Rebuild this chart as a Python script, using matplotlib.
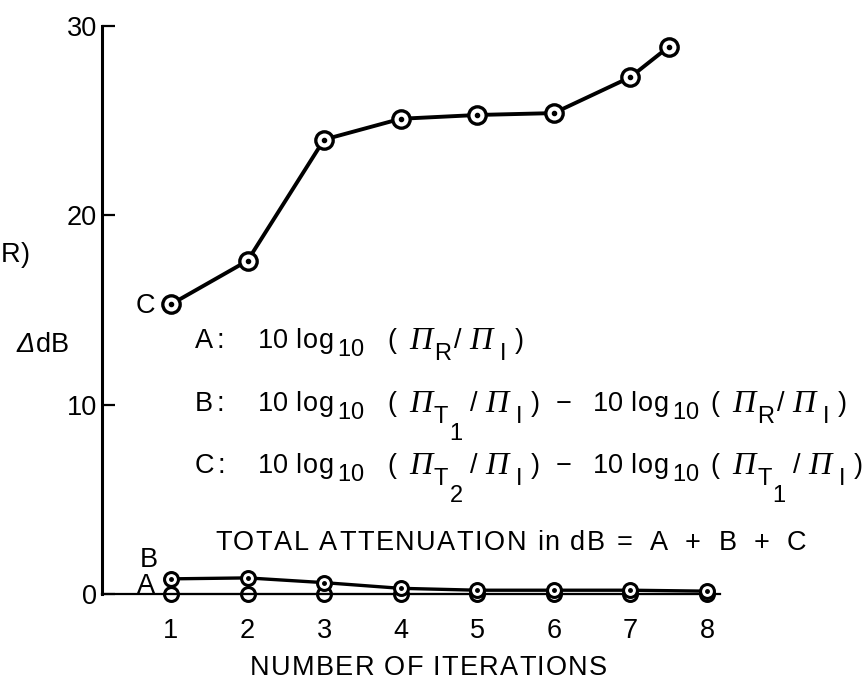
import matplotlib
matplotlib.use("Agg")
import matplotlib.pyplot as plt
from matplotlib.font_manager import FontProperties, findfont
from matplotlib.ft2font import FT2Font

plt.rcParams['font.family'] = ['Liberation Sans', 'DejaVu Sans']

# attenuation per iteration, dB
iterations = [1, 2, 3, 4, 5, 6, 7, 8]
c_iter = [1, 2, 3, 4, 5, 6, 7, 7.5]
c_db = [15.3, 17.6, 24.0, 25.1, 25.3, 25.4, 27.3, 28.9]
b_db = [0.8, 0.85, 0.6, 0.3, 0.2, 0.2, 0.2, 0.15]
a_db = [0, 0, 0, 0, 0, 0, 0, 0]
y_ticks = [0, 10, 20, 30]
x_label = "NUMBER OF ITERATIONS"
total_words = "TOTAL ATTENUATION in dB"

W, H = 865, 684
FS = 19.5
SUB = 17
SANS = 'Liberation Sans'
PI = dict(size=23, family='Liberation Serif', style='italic')

fig = plt.figure(figsize=(W / 100, H / 100), dpi=100)

_fonts = {}


def advance(ch, size, family=SANS, style='normal'):
    key = (family, style)
    if key not in _fonts:
        _fonts[key] = FT2Font(findfont(FontProperties(family=family, style=style)))
    f = _fonts[key]
    f.set_size(size, 100)
    return f.load_char(ord(ch)).linearHoriAdvance / 65536


def put(x, y, s, size=FS, family=SANS, style='normal', track=0.0):
    # place text char by char (pixel coords, y = baseline from top)
    for ch in s:
        if ch != ' ':
            fig.text(x / W, 1 - y / H, ch, fontsize=size, family=family,
                     style=style, ha='left', va='baseline')
        x += advance(ch, size, family, style) + track
    return x


def spread(x0, x1, y, s, size=FS):
    natural = sum(advance(ch, size) for ch in s[:-1])
    put(x0, y, s, size, track=(x1 - x0 - natural - 13) / (len(s) - 1))


def log_term(x0, base, sub, extra=0):
    # 10 log10 ( Pi_sub / Pi_I )
    put(x0, base, "10")
    put(x0 + 37, base, "log", track=1.5)
    put(x0 + 79, base + 8, "10", size=SUB)
    x = x0 + 117 + extra
    put(x, base, "(")
    put(x + 22, base + 1, "\u03a0", **PI)
    end = put(x + 47, base + 12, sub[0], size=SUB)
    shift = 0
    if len(sub) > 1:
        put(end + 1, base + 29, sub[1], size=SUB)
        shift = 16
    put(x + 67 + shift, base, "/")
    put(x + 82 + shift, base + 1, "\u03a0", **PI)
    put(x + 113 + shift, base + 12, "I", size=SUB)
    put(x + 128 + shift, base, ")")


ax = fig.add_axes([102 / W, 1 - 594 / H, (720 - 102) / W, (594 - 26) / H])
ax.set_xlim(0.1, 8.17)
ax.set_ylim(0, 30)

for s in ['top', 'right']:
    ax.spines[s].set_visible(False)
ax.spines['left'].set_linewidth(2.2)
ax.spines['bottom'].set_linewidth(1.6)

ax.set_yticks(y_ticks)
ax.set_xticks(iterations)
ax.tick_params(axis='y', direction='in', length=9.5, width=1.6, pad=3.5,
               labelsize=FS)
ax.tick_params(axis='x', length=0, pad=17, labelsize=FS)

# curve C
ax.plot(c_iter, c_db, color='k', lw=2.8, marker='o', ms=12.5, mfc='white',
        mec='k', mew=2.4, clip_on=False, zorder=4)
ax.plot(c_iter, c_db, ls='none', marker='o', ms=3, color='k', zorder=5,
        clip_on=False)

# curves A and B near zero
ax.plot(iterations, a_db, color='k', lw=1.5, marker='o', ms=10, mfc='none',
        mec='k', mew=2.2, clip_on=False, zorder=3)
ax.plot(iterations, b_db, color='k', lw=2.4, marker='o', ms=10, mfc='white',
        mec='k', mew=2.2, clip_on=False, zorder=4)
ax.plot(iterations, b_db, ls='none', marker='o', ms=2.5, color='k', zorder=5,
        clip_on=False)

spread(250, 602, 675, x_label)

put(1, 262, "R)")
put(17, 352, "\u0394", style='italic')
put(36, 352, "dB")
put(136, 313, "C")
put(140, 567, "B")
put(137, 593, "A")

# formula legend
put(195, 348, "A:", track=3)
log_term(258, 348, "R", extra=12)

put(195, 411, "B:", track=3)
log_term(258, 411, "T1", extra=12)
put(556, 411, "\u2212")
log_term(593, 411, "R")

put(195, 473, "C:", track=3)
log_term(258, 473, "T2", extra=12)
put(556, 473, "\u2212")
log_term(593, 473, "T1")

spread(215, 600, 550, total_words)
for x, ch in zip([617, 650, 685, 719, 754, 787], "=A+B+C"):
    put(x, 550, ch)

fig.savefig("out.png", dpi=100)
